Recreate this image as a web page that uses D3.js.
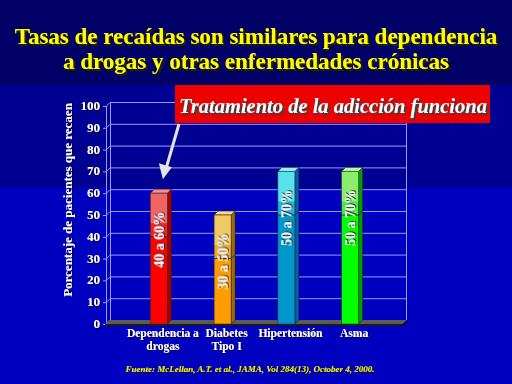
<!DOCTYPE html>
<html>
<head>
<meta charset="utf-8">
<script src="https://cdn.jsdelivr.net/npm/d3@7"></script>
<style>
  body { margin: 0; background: #0000c0; }
  svg { display: block; font-family: "Liberation Serif", "Times New Roman", serif; font-weight: bold; }
</style>
</head>
<body>
<svg id="chart" width="512" height="384"></svg>
<script>
// data
var categories = [["Dependencia a", "drogas"], ["Diabetes", "Tipo I"], ["Hipertensión"], ["Asma"]];
var lowValues = [40, 30, 50, 50];
var highValues = [60, 50, 70, 70];
var rangeLabels = ["40 a 60%", "30 a 50%", "50 a 70%", "50 a 70%"];
var yTicks = [0, 10, 20, 30, 40, 50, 60, 70, 80, 90, 100];
var titleLines = ["Tasas de recaídas son similares para dependencia", "a drogas y otras enfermedades crónicas"];

// bar colours: base, upper mid, upper light, side, top
var palette = [
  { base: "#ff0000", mid: "#ff1c1c", light: "#f06464", side: "#a80000", top: "#ff8c8c" },
  { base: "#ff9c00", mid: "#f0aa30", light: "#f0c864", side: "#9c6c00", top: "#ffd884" },
  { base: "#0098cc", mid: "#20b4dc", light: "#58e0ec", side: "#0060b0", top: "#90f4ff" },
  { base: "#00ff00", mid: "#44ec44", light: "#8cec6c", side: "#00a000", top: "#b8ff98" }
];

var svg = d3.select("#chart");

var defs = svg.append("defs");
function shadowFilter(id, off, color) {
  defs.append("filter").attr("id", id).attr("x", "-10%").attr("y", "-30%").attr("width", "130%").attr("height", "160%")
    .append("feDropShadow").attr("dx", off).attr("dy", off).attr("stdDeviation", 0)
    .attr("flood-color", color).attr("flood-opacity", 1);
}
shadowFilter("sh2", 2, "#202000");
shadowFilter("sh1", 1, "#000033");
shadowFilter("shGray", 2, "#404040");
shadowFilter("shBar", 1, "#202020");

// background bands
svg.append("rect").attr("x", 0).attr("y", 0).attr("width", 512).attr("height", 384).attr("fill", "#0000c0");
svg.append("rect").attr("x", 0).attr("y", 0).attr("width", 512).attr("height", 188).attr("fill", "#000092");
svg.append("rect").attr("x", 0).attr("y", 0).attr("width", 512).attr("height", 85).attr("fill", "#000066");

// title
svg.append("g").attr("text-anchor", "middle").style("font-size", "23px").attr("fill", "#ffff00")
  .attr("filter", "url(#sh2)")
  .selectAll("text").data(titleLines).join("text")
  .attr("x", 256).attr("y", (d, i) => 44 + i * 25)
  .text(d => d);

var depth = 4;
var y = d3.scaleLinear().domain([0, 100]).range([320, 102]);
var x = d3.scalePoint().domain(d3.range(categories.length)).range([127, 382]).padding(0.5);
var barW = 17;
var wallL = 106, wallR = 406;

// back wall grid
var grid = svg.append("g").attr("stroke", "#9a9aff").attr("stroke-width", 1).attr("fill", "none");
yTicks.forEach(function(v) {
  grid.append("line").attr("x1", wallL + depth).attr("x2", wallR).attr("y1", y(v) + 0.5).attr("y2", y(v) + 0.5);
  grid.append("line").attr("x1", wallL).attr("x2", wallL + depth).attr("y1", y(v) + depth + 0.5).attr("y2", y(v) + 0.5);
  grid.append("line").attr("x1", wallL - 3).attr("x2", wallL).attr("y1", y(v) + depth + 0.5).attr("y2", y(v) + depth + 0.5);
});
grid.append("line").attr("x1", wallL + 0.5).attr("x2", wallL + 0.5).attr("y1", y(100) + depth).attr("y2", y(0) + depth);
grid.append("line").attr("x1", wallL + depth + 0.5).attr("x2", wallL + depth + 0.5).attr("y1", y(100)).attr("y2", y(0));
grid.append("line").attr("x1", wallR + 0.5).attr("x2", wallR + 0.5).attr("y1", y(100)).attr("y2", y(0));

// floor
var fy = y(0);
svg.append("path")
  .attr("d", "M" + (wallL - 1) + "," + (fy + depth) + "L" + (wallL + depth - 1) + "," + fy + "L" + (wallR + 1) + "," + fy +
    "L" + (wallR - depth + 1) + "," + (fy + depth) + "Z")
  .attr("fill", "#5a5a5a");
svg.append("path")
  .attr("d", "M" + (wallL - 1) + "," + (fy + depth) + "L" + (wallR - depth + 1) + "," + (fy + depth) + "L" + (wallR - depth + 1) + "," + (fy + depth + 2) +
    "L" + (wallL - 1) + "," + (fy + depth + 2) + "Z")
  .attr("fill", "#1a1a1a");
svg.append("path")
  .attr("d", "M" + (wallR - depth + 1) + "," + (fy + depth) + "L" + (wallR + 1) + "," + fy + "L" + (wallR + 1) + "," + (fy + 2) +
    "L" + (wallR - depth + 1) + "," + (fy + depth + 2) + "Z")
  .attr("fill", "#000000");

// y tick labels
svg.append("g").attr("text-anchor", "end").style("font-size", "13px").attr("fill", "#ffffff").attr("filter", "url(#sh1)")
  .selectAll("text").data(yTicks).join("text")
  .attr("x", 100).attr("y", d => y(d) + 8)
  .text(d => d);

// y axis title
svg.append("text").attr("transform", "translate(72,200) rotate(-90)").attr("text-anchor", "middle")
  .style("font-size", "13px").attr("fill", "#ffffff").attr("filter", "url(#sh1)")
  .text("Porcentaje de pacientes que recaen");

// bars
var bars = svg.append("g");
categories.forEach(function(c, i) {
  var p = palette[i];
  var x0 = x(i) - barW / 2, x1 = x0 + barW;
  var yb = y(0) + depth, yl0 = y(lowValues[i]) + depth, yh = y(highValues[i]) + depth;
  var g = bars.append("g");
  // side
  g.append("path").attr("d", "M" + x1 + "," + yb + "L" + x1 + "," + yh + "L" + (x1 + depth) + "," + (yh - depth) + "L" + (x1 + depth) + "," + (yb - depth) + "Z")
    .attr("fill", p.side).attr("stroke", "#202020").attr("stroke-width", 0.6);
  // top
  g.append("path").attr("d", "M" + x0 + "," + yh + "L" + (x0 + depth) + "," + (yh - depth) + "L" + (x1 + depth) + "," + (yh - depth) + "L" + x1 + "," + yh + "Z")
    .attr("fill", p.top).attr("stroke", "#202020").attr("stroke-width", 0.6);
  // lower front
  g.append("rect").attr("x", x0).attr("y", yl0).attr("width", barW).attr("height", yb - yl0).attr("fill", p.base);
  // upper front
  g.append("rect").attr("x", x0).attr("y", yh).attr("width", barW).attr("height", yl0 - yh).attr("fill", p.mid);
  g.append("rect").attr("x", x0).attr("y", yh).attr("width", barW).attr("height", Math.min(30, yl0 - yh)).attr("fill", p.light);
  // separator
  g.append("path").attr("d", "M" + x0 + "," + yl0 + "L" + x1 + "," + yl0 + "L" + (x1 + depth) + "," + (yl0 - depth))
    .attr("fill", "none").attr("stroke", "#303030").attr("stroke-width", 1);
  g.append("rect").attr("x", x0).attr("y", yh).attr("width", barW).attr("height", yb - yh)
    .attr("fill", "none").attr("stroke", "#303030").attr("stroke-width", 0.6);
  // label, reads bottom to top
  g.append("text").attr("transform", "translate(" + (x(i) + 5) + "," + (y(lowValues[i]) + 7) + ") rotate(-90)")
    .attr("text-anchor", "middle").style("font-size", "14px").attr("fill", "#ffffff").attr("filter", "url(#shBar)")
    .text(rangeLabels[i]);
});

// category labels
var cl = svg.append("g").attr("text-anchor", "middle").style("font-size", "11.5px").attr("fill", "#ffffff").attr("filter", "url(#sh1)");
categories.forEach(function(c, i) {
  c.forEach(function(line, j) {
    cl.append("text").attr("x", x(i) + 4).attr("y", 337 + j * 13).text(line);
  });
});

// callout box
svg.append("rect").attr("x", 175).attr("y", 85).attr("width", 315).attr("height", 38).attr("fill", "#ee0000");
svg.append("text").attr("x", 333).attr("y", 113).attr("text-anchor", "middle")
  .style("font-size", "20.5px").style("font-style", "italic").attr("fill", "#ffffff").attr("filter", "url(#shGray)")
  .text("Tratamiento de la adicción funciona");

// arrow
var tip = [x(0) + 4, y(highValues[0]) - 10];
svg.append("line").attr("x1", 179).attr("y1", 124).attr("x2", tip[0] + 3).attr("y2", tip[1] - 10)
  .attr("stroke", "#e4e4e4").attr("stroke-width", 3);
svg.append("path")
  .attr("d", "M" + tip[0] + "," + tip[1] + "L" + (tip[0] - 4) + "," + (tip[1] - 16) + "L" + (tip[0] + 9) + "," + (tip[1] - 12) + "Z")
  .attr("fill", "#e4e4e4");

// source
svg.append("text").attr("x", 250).attr("y", 372).attr("text-anchor", "middle")
  .style("font-size", "9px").style("font-style", "italic").attr("fill", "#f0f000").attr("filter", "url(#sh1)")
  .text("Fuente: McLellan, A.T. et al., JAMA, Vol 284(13), October 4, 2000.");
</script>
</body>
</html>
